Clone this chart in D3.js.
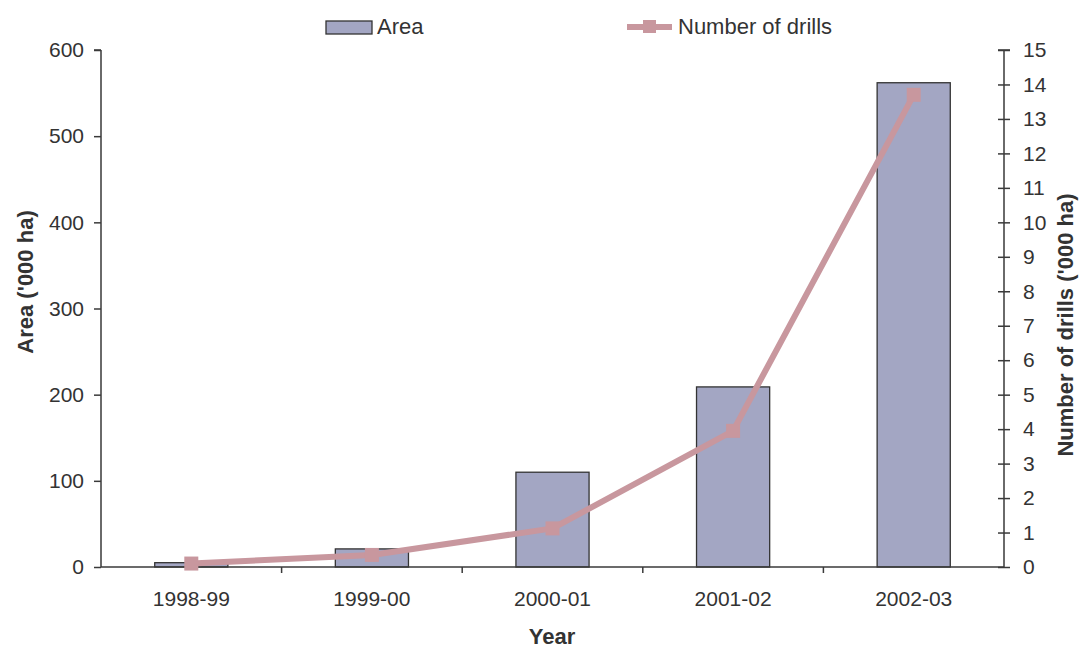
<!DOCTYPE html>
<html>
<head>
<meta charset="utf-8">
<script src="https://cdn.jsdelivr.net/npm/d3@7/dist/d3.min.js"></script>
<style>
  html, body { margin: 0; padding: 0; background: #fff; }
  svg { display: block; font-family: "Liberation Sans", Arial, sans-serif; }
</style>
</head>
<body>
<svg id="chart" width="1079" height="648"></svg>
<script>
// Seasons and series values
const years = ["1998-99", "1999-00", "2000-01", "2001-02", "2002-03"];
const area = [5, 21, 110, 209, 562];          // '000 ha
const drills = [0.1, 0.35, 1.12, 3.95, 13.7];  // '000
const leftTicks = [0, 100, 200, 300, 400, 500, 600];
const rightTicks = d3.range(0, 16);

const svg = d3.select("#chart");
const plotLeft = 101, plotRight = 1004, plotTop = 50, plotBottom = 567;
const axisColor = "#3a3a3a";
const textColor = "#333";
const barFill = "#a3a6c3";
const lineColor = "#c8979e";
const tickFont = 21;
const titleFont = 22;

const x = d3.scaleBand().domain(years).range([plotLeft, plotRight]).padding(0);
const yL = d3.scaleLinear().domain([0, 600]).range([plotBottom, plotTop]);
const yR = d3.scaleLinear().domain([0, 15]).range([plotBottom, plotTop]);
const barW = x.bandwidth() * 0.405;

// Bars
svg.append("g").selectAll("rect").data(years).join("rect")
  .attr("x", (d) => x(d) + (x.bandwidth() - barW) / 2)
  .attr("y", (d, i) => yL(area[i]))
  .attr("width", barW)
  .attr("height", (d, i) => yL(0) - yL(area[i]))
  .attr("fill", barFill)
  .attr("stroke", "#333")
  .attr("stroke-width", 1.3);

// Left axis
const gL = svg.append("g").attr("transform", `translate(${plotLeft},0)`)
  .call(d3.axisLeft(yL).tickValues(leftTicks).tickSize(7).tickPadding(10));
// Right axis with crossing ticks
const gR = svg.append("g").attr("transform", `translate(${plotRight},0)`)
  .call(d3.axisRight(yR).tickValues(rightTicks).tickSize(6).tickPadding(13));
gR.selectAll(".tick line").attr("x1", -6);
// Bottom axis: ticks sit between categories
const gB = svg.append("g").attr("transform", `translate(0,${plotBottom})`)
  .call(d3.axisBottom(x).tickSize(0).tickPadding(24));
gB.selectAll("line.sep").data(years.slice(1)).join("line")
  .attr("class", "sep")
  .attr("x1", (d) => x(d)).attr("x2", (d) => x(d))
  .attr("y1", 0).attr("y2", 6)
  .attr("stroke", axisColor).attr("stroke-width", 1.5);

[gL, gR, gB].forEach((g) => {
  g.select(".domain").attr("stroke", axisColor).attr("stroke-width", 1.5);
  g.selectAll(".tick line").attr("stroke", axisColor).attr("stroke-width", 1.5);
  g.selectAll(".tick text").attr("fill", textColor).attr("font-size", tickFont)
    .attr("font-family", "Liberation Sans, Arial, sans-serif");
});
gL.select(".domain").attr("d", `M0,${plotBottom}V${plotTop}M-7,${plotTop}H0`);
gR.select(".domain").attr("d", `M0,${plotBottom}V${plotTop}M-6,${plotTop}H6`);
gB.select(".domain").attr("d", `M${plotLeft},0H${plotRight}`);

// Drills line
const line = d3.line()
  .x((d, i) => x(years[i]) + x.bandwidth() / 2)
  .y((d) => yR(d));
svg.append("path").datum(drills)
  .attr("d", line)
  .attr("fill", "none")
  .attr("stroke", lineColor)
  .attr("stroke-width", 6)
  .attr("stroke-linejoin", "round");
const mk = 14;
svg.append("g").selectAll("rect").data(drills).join("rect")
  .attr("x", (d, i) => x(years[i]) + x.bandwidth() / 2 - mk / 2)
  .attr("y", (d) => yR(d) - mk / 2)
  .attr("width", mk).attr("height", mk)
  .attr("fill", lineColor);

// Axis titles
svg.append("text")
  .attr("transform", `translate(33,282) rotate(-90)`)
  .attr("text-anchor", "middle")
  .attr("font-size", titleFont).attr("font-weight", "bold").attr("fill", textColor)
  .text("Area ('000 ha)");
svg.append("text")
  .attr("transform", `translate(1073,325) rotate(-90)`)
  .attr("text-anchor", "middle")
  .attr("font-size", titleFont).attr("font-weight", "bold").attr("fill", textColor)
  .text("Number of drills ('000 ha)");
svg.append("text")
  .attr("x", 552).attr("y", 644)
  .attr("text-anchor", "middle")
  .attr("font-size", titleFont).attr("font-weight", "bold").attr("fill", textColor)
  .text("Year");

// Legend
const lg = svg.append("g");
lg.append("rect").attr("x", 326).attr("y", 21).attr("width", 46).attr("height", 13)
  .attr("fill", barFill).attr("stroke", "#333").attr("stroke-width", 1.3);
lg.append("text").attr("x", 377).attr("y", 34)
  .attr("font-size", tickFont + 1).attr("fill", textColor).text("Area");
lg.append("line").attr("x1", 627).attr("x2", 672).attr("y1", 27).attr("y2", 27)
  .attr("stroke", lineColor).attr("stroke-width", 6);
lg.append("rect").attr("x", 643).attr("y", 20).attr("width", 13).attr("height", 13)
  .attr("fill", lineColor);
lg.append("text").attr("x", 678).attr("y", 34)
  .attr("font-size", tickFont + 1).attr("fill", textColor).text("Number of drills");
</script>
</body>
</html>
